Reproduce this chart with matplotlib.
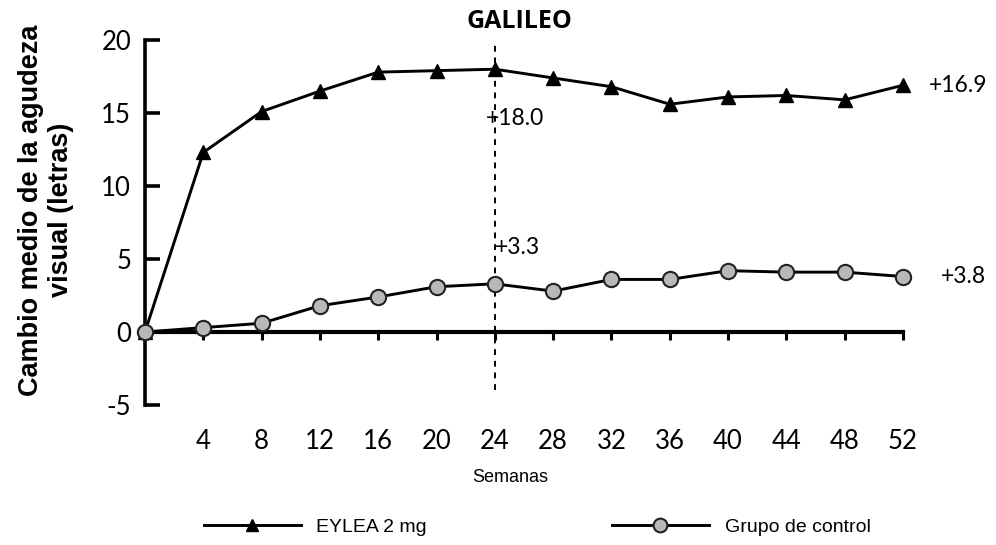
import numpy as np
import matplotlib
matplotlib.use("Agg")
import matplotlib.pyplot as plt

# values
weeks = [0, 4, 8, 12, 16, 20, 24, 28, 32, 36, 40, 44, 48, 52]
eylea = [0, 12.3, 15.1, 16.5, 17.8, 17.9, 18.0, 17.4, 16.8, 15.6, 16.1, 16.2, 15.9, 16.9]
control = [0, 0.3, 0.6, 1.8, 2.4, 3.1, 3.3, 2.8, 3.6, 3.6, 4.2, 4.1, 4.1, 3.8]
xtick_weeks = [4, 8, 12, 16, 20, 24, 28, 32, 36, 40, 44, 48, 52]
ytick_vals = [-5, 0, 5, 10, 15, 20]
ref_week = 24

tick_font = "Lato"

fig = plt.figure(figsize=(9.96, 5.45), dpi=100)
ax = fig.add_axes([145 / 996, 1 - 405 / 545, 758 / 996, 365 / 545])

ax.vlines(ref_week, -4, 20, colors="black", linestyles=(0, (3, 3)), linewidth=1.4, zorder=1)

l1, = ax.plot(weeks, eylea, color="black", lw=2.1, marker="^", markersize=10,
              markerfacecolor="black", markeredgecolor="black", clip_on=False, zorder=3,
              label="EYLEA 2 mg")
l2, = ax.plot(weeks, control, color="black", lw=2.1, marker="o", markersize=11,
              markerfacecolor="#b8b8b8", markeredgecolor="#222222", markeredgewidth=1.5,
              clip_on=False, zorder=3, label="Grupo de control")

ax.set_xlim(0, 52)
ax.set_ylim(-5, 20)

for s in ["top", "right"]:
    ax.spines[s].set_visible(False)
ax.spines["bottom"].set_position(("data", 0))
ax.spines["bottom"].set_linewidth(3)
ax.spines["left"].set_linewidth(2.6)

ax.set_xticks(xtick_weeks)
ax.set_xticklabels([str(w) for w in xtick_weeks], fontname=tick_font, fontsize=18.5)
ax.tick_params(axis="x", direction="out", length=6, width=2.2, pad=64)

ax.set_yticks(ytick_vals)
ax.set_yticklabels([str(v) for v in ytick_vals], fontname=tick_font, fontsize=18.5)
ax.tick_params(axis="y", direction="in", length=11, width=2.6, pad=10)

ax.text(ref_week + 1.7, 21.3, "GALILEO", ha="center", va="center", fontsize=18,
        fontweight="bold", fontname="Open Sans")
ax.text(23.4, 14.6, "+18.0", ha="left", va="center", fontsize=16.5, fontname=tick_font)
ax.text(24.0, 5.8, "+3.3", ha="left", va="center", fontsize=16.5, fontname=tick_font)
ax.text(53.8, eylea[-1], "+16.9", ha="left", va="center", fontsize=16.5, fontname=tick_font)
ax.text(54.6, control[-1], "+3.8", ha="left", va="center", fontsize=16.5, fontname=tick_font)

fig.text(0.046, 1 - 210 / 545, "Cambio medio de la agudeza\nvisual (letras)", rotation=90,
         ha="center", va="center", fontsize=19.5, fontweight="bold",
         fontname="Liberation Sans", linespacing=1.2)

fig.text(510 / 996, 1 - 477 / 545, "Semanas", ha="center", va="center",
         fontsize=13, fontname="Liberation Sans")

fig.legend(handles=[l1, l2], loc="center", bbox_to_anchor=(537 / 996, 1 - 527 / 545),
           ncol=2, frameon=False, handlelength=5.0, handletextpad=0.8,
           columnspacing=9.5, borderpad=0, markerscale=0.9,
           prop={"family": "Liberation Sans", "size": 14})

fig.savefig("out.png", dpi=100)
